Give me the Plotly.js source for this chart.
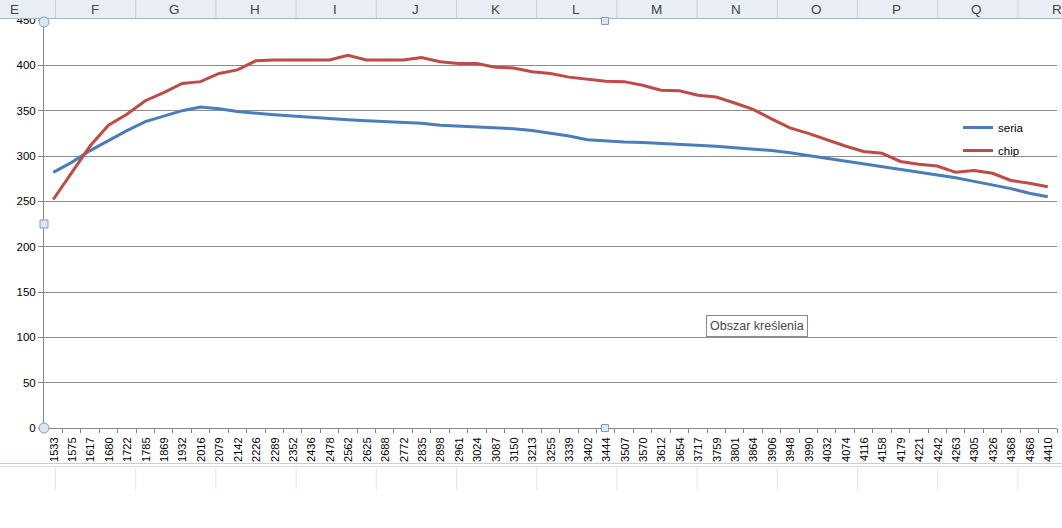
<!DOCTYPE html>
<html>
<head>
<meta charset="utf-8">
<script src="https://cdn.plot.ly/plotly-3.0.1.min.js"></script>
<style>
  html, body { margin: 0; padding: 0; background: #ffffff; }
  #chart { width: 1062px; height: 528px; }
</style>
</head>
<body>
<div id="chart"></div>
<script>
// ---- data ----
const categories = ["1533","1575","1617","1680","1722","1785","1869","1932","2016","2079","2142","2226","2289","2352","2436","2478","2562","2625","2688","2772","2835","2898","2961","3024","3087","3150","3213","3255","3339","3402","3444","3507","3570","3612","3654","3717","3759","3801","3864","3906","3948","3990","4032","4074","4116","4158","4179","4221","4242","4263","4305","4326","4368","4368","4410"];

const seria = [282,293,306,317,328,338,344,350,354,352,349,347,345.5,344,342.5,341,340,339,338,337,336,334,333,332,331,330,328,325,322,318,316.5,315.5,315,314,313.3,312,310.7,309,307.7,306,303.6,300.5,298,295,292,288.5,285,282,279,276,272,268,264,259,255];

const chip = [252,281,311,334,346,361,370,380,382,391,395,405,406,406,406,406,411,406,406,406,408.5,404,402,402,398,397,393,391,387,385,382.5,382,378,372.5,372,367,365,358.5,351.5,341,331,325,318,311,305,303,294,291,289,282,284,281,273,270,266];

const seriesNames = ["seria", "chip"];
const yTicks = [0,50,100,150,200,250,300,350,400,450];

// spreadsheet column header letters
const columnLetters = ["E","F","G","H","I","J","K","L","M","N","O","P","Q","R"];

const tooltipText = "Obszar kreślenia";

// ---- build ----
const W = 1062, H = 528;
const L = 44, R = 5, T = 20, B = 100;
const plotW = W - L - R, plotH = H - T - B;
const idx = categories.map((_, i) => i);
const px2paperX = px => (px - L) / plotW;
const py2paperY = py => (H - B - py) / plotH;

const font = "Liberation Sans, Arial, sans-serif";

const traces = [
  {x: idx, y: seria, name: seriesNames[0], type: "scatter", mode: "lines",
   line: {color: "#4A7EBB", width: 3}, legendgroup: "a", hoverinfo: "skip"},
  {x: idx, y: chip, name: seriesNames[1], type: "scatter", mode: "lines",
   line: {color: "#BE4B48", width: 3}, legendgroup: "b", hoverinfo: "skip"}
];

const shapes = [];
const annotations = [];

// header bar
shapes.push({type: "rect", xref: "paper", yref: "paper", layer: "above",
  x0: px2paperX(0), x1: px2paperX(W), y0: py2paperY(18), y1: py2paperY(0),
  fillcolor: "#E9EEF6", line: {width: 0}});
shapes.push({type: "line", xref: "paper", yref: "paper", layer: "above",
  x0: px2paperX(0), x1: px2paperX(W), y0: py2paperY(18.5), y1: py2paperY(18.5),
  line: {color: "#9EB6CE", width: 1}});
const colStep = 80.2, firstBoundary = 55.5;
for (let k = 0; k < 13; k++) {
  const bx = firstBoundary + k * colStep;
  shapes.push({type: "line", xref: "paper", yref: "paper", layer: "above",
    x0: px2paperX(bx), x1: px2paperX(bx), y0: py2paperY(18), y1: py2paperY(0),
    line: {color: "#C3CFDF", width: 1}});
}
columnLetters.forEach((c, k) => {
  annotations.push({text: c, xref: "paper", yref: "paper",
    x: px2paperX(firstBoundary - colStep / 2 + k * colStep - 1), y: py2paperY(9.5),
    xanchor: "center", yanchor: "middle", showarrow: false,
    font: {family: font, size: 13.5, color: "#444444"}});
});

// spreadsheet rows below chart
shapes.push({type: "line", xref: "paper", yref: "paper", layer: "above",
  x0: px2paperX(0), x1: px2paperX(W), y0: py2paperY(463.5), y1: py2paperY(463.5),
  line: {color: "#C8CED8", width: 1}});
shapes.push({type: "line", xref: "paper", yref: "paper", layer: "above",
  x0: px2paperX(0), x1: px2paperX(W), y0: py2paperY(466.5), y1: py2paperY(466.5),
  line: {color: "#DADFE6", width: 1}});
for (let k = 0; k < 13; k++) {
  const bx = firstBoundary + k * colStep;
  shapes.push({type: "line", xref: "paper", yref: "paper", layer: "above",
    x0: px2paperX(bx), x1: px2paperX(bx), y0: py2paperY(490), y1: py2paperY(466),
    line: {color: "#E2E6EC", width: 1}});
}

// selection handles
function handle(type, pxx, pyy, r) {
  shapes.push({type: type, xref: "paper", yref: "paper", layer: "above",
    xsizemode: "pixel", ysizemode: "pixel",
    xanchor: px2paperX(pxx), yanchor: py2paperY(pyy),
    x0: -r, x1: r, y0: -r, y1: r,
    fillcolor: "#DDE7F3", line: {color: "#7F9DB9", width: 1}});
}
handle("circle", 44, 428, 5);
handle("circle", 44, 22, 5);
handle("rect", 44, 224, 4);
handle("rect", 605, 21, 3.5);
handle("rect", 605, 428, 3.5);

// tooltip
annotations.push({text: tooltipText, xref: "paper", yref: "paper",
  x: px2paperX(706), y: py2paperY(325.5), xanchor: "left", yanchor: "middle",
  showarrow: false, bgcolor: "#FFFFFF", bordercolor: "#8A8A8A", borderwidth: 1,
  borderpad: 3, font: {family: font, size: 12.5, color: "#4A4A4A"}});

const layout = {
  width: W, height: H,
  margin: {l: L, r: R, t: T, b: B, pad: 0},
  paper_bgcolor: "#FFFFFF", plot_bgcolor: "#FFFFFF",
  font: {family: font, size: 11, color: "#000000"},
  showlegend: true,
  legend: {x: px2paperX(958), y: py2paperY(113), xanchor: "left", yanchor: "top",
    bgcolor: "rgba(0,0,0,0)", borderwidth: 0, tracegroupgap: 4,
    traceorder: "grouped", font: {family: font, size: 11.5, color: "#000000"}},
  xaxis: {
    type: "linear", range: [-0.5, categories.length - 0.5],
    tickmode: "array",
    tickvals: idx.map(i => i - 0.5).concat([categories.length - 0.5]),
    ticktext: categories.concat([""]),
    ticklabelshift: 10,
    tickangle: -90, ticks: "outside", ticklen: 4, tickcolor: "#868686",
    showgrid: false, zeroline: false, showline: true, linecolor: "#868686", linewidth: 1,
    tickfont: {family: font, size: 11, color: "#000000"}, fixedrange: true
  },
  yaxis: {
    range: [0, 450], tickmode: "array", tickvals: yTicks,
    ticks: "outside", ticklen: 5, tickcolor: "#868686",
    showgrid: true, gridcolor: "#8C8C8C", gridwidth: 1,
    zeroline: false, showline: true, linecolor: "#868686", linewidth: 1,
    tickfont: {family: font, size: 11.5, color: "#000000"}, fixedrange: true
  },
  shapes: shapes,
  annotations: annotations
};

Plotly.newPlot("chart", traces, layout, {staticPlot: true, displayModeBar: false});
</script>
</body>
</html>
